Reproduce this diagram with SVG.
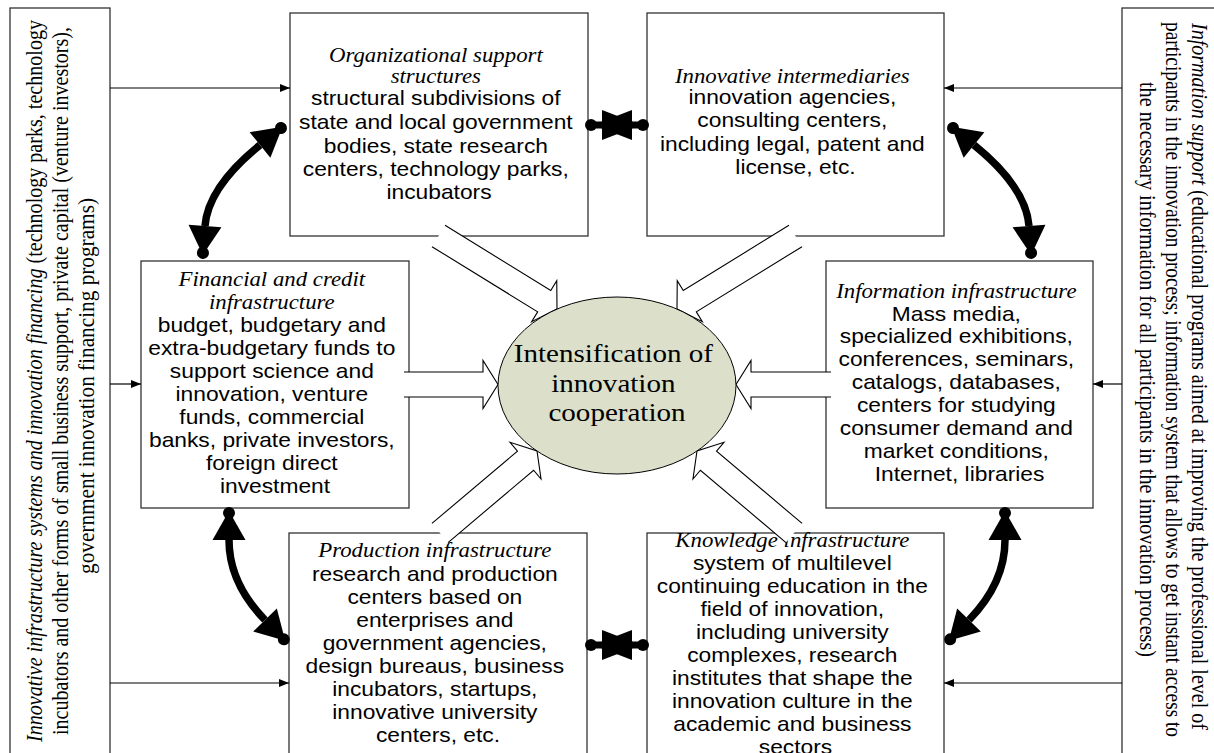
<svg xmlns="http://www.w3.org/2000/svg" width="1214" height="753" viewBox="0 0 1214 753">
<style>
.box{fill:#fff;stroke:#333;stroke-width:1.3}
.t{font-family:"Liberation Sans",Arial,sans-serif;font-size:20px;fill:#000;text-anchor:middle}
.h{font-family:"Liberation Serif","Times New Roman",serif;font-style:italic}
.side{font-family:"Liberation Serif","Times New Roman",serif;font-size:20px;fill:#000}
.it{font-style:italic}
.thin{stroke:#000;stroke-width:1.2;fill:none;marker-end:url(#ta)}
.thick{fill:none;stroke:#000;stroke-width:7.5;marker-start:url(#dh);marker-end:url(#dh)}
.hf{fill:#fff;stroke:none}
.hl{fill:none;stroke:#000;stroke-width:1.1}
.ell{fill:#dcdfca;stroke:#000;stroke-width:1}
.et{font-family:"Liberation Serif","Times New Roman",serif;font-size:25.5px;fill:#000;text-anchor:middle}
</style>
<defs>
<marker id="ta" markerUnits="userSpaceOnUse" markerWidth="12" markerHeight="10" refX="10" refY="4" orient="auto" overflow="visible"><path d="M0,0 L10,4 L0,8 Z" fill="#000"/></marker>
<marker id="dh" markerUnits="userSpaceOnUse" markerWidth="40" markerHeight="40" refX="0" refY="0" orient="auto-start-reverse" overflow="visible"><path d="M0,-16.5 L29,0 L0,16.5 Z" fill="#000"/><circle cx="27" cy="0" r="6" fill="#000"/></marker>
</defs>
<rect width="1214" height="753" fill="#fff"/>

<g id="node-left-support">
<rect class="box" x="10" y="8" width="100" height="770"/>
<text class="side" transform="translate(42,381) scale(1.14,1) rotate(-90)" x="-361" y="0" textLength="722" lengthAdjust="spacingAndGlyphs"><tspan class="it">Innovative infrastructure systems and innovation financing</tspan> (technology parks, technology</text>
<text class="side" transform="translate(68,381) scale(1.14,1) rotate(-90)" x="-354" y="0" textLength="708" lengthAdjust="spacingAndGlyphs">incubators and other forms of small business support, private capital (venture investors),</text>
<text class="side" transform="translate(94,386) scale(1.14,1) rotate(-90)" x="-188" y="0" textLength="376" lengthAdjust="spacingAndGlyphs">government innovation financing programs)</text>
</g>

<g id="node-right-support">
<rect class="box" x="1122" y="8" width="120" height="770"/>
<text class="side" transform="translate(1192,379) scale(1.14,1) rotate(90)" x="-356" y="0" textLength="707" lengthAdjust="spacingAndGlyphs"><tspan class="it">Information support</tspan> (educational programs aimed at improving the professional level of</text>
<text class="side" transform="translate(1166,379) scale(1.14,1) rotate(90)" x="-357" y="0" textLength="715" lengthAdjust="spacingAndGlyphs">participants in the innovation process; information system that allows to get instant access to</text>
<text class="side" transform="translate(1140,379) scale(1.14,1) rotate(90)" x="-297" y="0" textLength="575" lengthAdjust="spacingAndGlyphs">the necessary information for all participants in the innovation process)</text>
</g>

<g id="node-organizational">
<rect class="box" x="290" y="13" width="298" height="223"/>
<text class="t" transform="matrix(1.14 0 0 1 439 0)">
<tspan class="h" x="0" y="62">Organizational support</tspan>
<tspan class="h" x="0" y="83">structures</tspan>
<tspan x="0" y="105.5">structural subdivisions of</tspan>
<tspan x="0" y="129.5">state and local government</tspan>
<tspan x="0" y="153">bodies, state research</tspan>
<tspan x="0" y="176.5">centers, technology parks,</tspan>
<tspan x="0" y="199.5">incubators</tspan>
</text>
</g>

<g id="node-intermediaries">
<rect class="box" x="647" y="13" width="297" height="223"/>
<text class="t" transform="matrix(1.14 0 0 1 795.5 0)">
<tspan class="h" x="0" y="83">Innovative intermediaries</tspan>
<tspan x="0" y="104">innovation agencies,</tspan>
<tspan x="0" y="127">consulting centers,</tspan>
<tspan x="0" y="151">including legal, patent and</tspan>
<tspan x="0" y="174">license, etc.</tspan>
</text>
</g>

<g id="node-financial">
<rect class="box" x="141" y="261" width="268" height="247"/>
<text class="t" transform="matrix(1.14 0 0 1 275 0)">
<tspan class="h" x="0" y="286">Financial and credit</tspan>
<tspan class="h" x="0" y="309">infrastructure</tspan>
<tspan x="0" y="332">budget, budgetary and</tspan>
<tspan x="0" y="355">extra-budgetary funds to</tspan>
<tspan x="0" y="378">support science and</tspan>
<tspan x="0" y="401.5">innovation, venture</tspan>
<tspan x="0" y="424">funds, commercial</tspan>
<tspan x="0" y="447">banks, private investors,</tspan>
<tspan x="0" y="470">foreign direct</tspan>
<tspan x="0" y="493">investment</tspan>
</text>
</g>

<g id="node-information">
<rect class="box" x="826" y="261" width="267" height="247"/>
<text class="t" transform="matrix(1.14 0 0 1 959.5 0)">
<tspan class="h" x="0" y="298">Information infrastructure</tspan>
<tspan x="0" y="321">Mass media,</tspan>
<tspan x="0" y="343.5">specialized exhibitions,</tspan>
<tspan x="0" y="366.5">conferences, seminars,</tspan>
<tspan x="0" y="389.5">catalogs, databases,</tspan>
<tspan x="0" y="412.5">centers for studying</tspan>
<tspan x="0" y="435.5">consumer demand and</tspan>
<tspan x="0" y="458.5">market conditions,</tspan>
<tspan x="0" y="481.5">Internet, libraries</tspan>
</text>
</g>

<g id="node-production">
<rect class="box" x="289" y="533" width="298" height="240"/>
<text class="t" transform="matrix(1.14 0 0 1 438 0)">
<tspan class="h" x="0" y="557">Production infrastructure</tspan>
<tspan x="0" y="581">research and production</tspan>
<tspan x="0" y="604">centers based on</tspan>
<tspan x="0" y="627">enterprises and</tspan>
<tspan x="0" y="650">government agencies,</tspan>
<tspan x="0" y="673">design bureaus, business</tspan>
<tspan x="0" y="696">incubators, startups,</tspan>
<tspan x="0" y="719">innovative university</tspan>
<tspan x="0" y="742">centers, etc.</tspan>
</text>
</g>

<g id="node-knowledge">
<rect class="box" x="647" y="533" width="297" height="240"/>
<text class="t" transform="matrix(1.14 0 0 1 795.5 0)">
<tspan class="h" x="0" y="547">Knowledge infrastructure</tspan>
<tspan x="0" y="570">system of multilevel</tspan>
<tspan x="0" y="593">continuing education in the</tspan>
<tspan x="0" y="616">field of innovation,</tspan>
<tspan x="0" y="639">including university</tspan>
<tspan x="0" y="662">complexes, research</tspan>
<tspan x="0" y="685">institutes that shape the</tspan>
<tspan x="0" y="708">innovation culture in the</tspan>
<tspan x="0" y="731">academic and business</tspan>
<tspan x="0" y="754">sectors</tspan>
</text>
</g>

<g id="connectors">
<line class="thin" x1="110" y1="88" x2="290" y2="88"/>
<line class="thin" x1="110" y1="384" x2="141" y2="384"/>
<line class="thin" x1="110" y1="683" x2="289" y2="683"/>
<line class="thin" x1="1122" y1="88" x2="944" y2="88"/>
<line class="thin" x1="1122" y1="384" x2="1093" y2="384"/>
<line class="thin" x1="1122" y1="683" x2="944" y2="683"/>

<path class="thick" d="M260,145 Q208,187 205,226"/>
<path class="thick" d="M229,540 Q229,583 265,620"/>
<path class="thick" d="M974,145 Q1026,187 1029,226"/>
<path class="thick" d="M1005,540 Q1005,583 969,620"/>

<g id="bowtie-top">
<line x1="592" y1="125" x2="643" y2="125" stroke="#000" stroke-width="7"/>
<polygon points="602,110 602,140 641,125"/>
<polygon points="632,110 632,140 593,125"/>
<circle cx="591" cy="125" r="6"/>
<circle cx="643" cy="125" r="6"/>
</g>
<g id="bowtie-bottom">
<line x1="592" y1="645" x2="643" y2="645" stroke="#000" stroke-width="7"/>
<polygon points="602,630 602,660 641,645"/>
<polygon points="632,630 632,660 593,645"/>
<circle cx="591" cy="645" r="6"/>
<circle cx="643" cy="645" r="6"/>
</g>

<polygon class="hf" points="404,372 483,372 483,360.5 498,384.5 483,408.5 483,397 404,397"/>
<polyline class="hl" points="404,372 483,372 483,360.5 498,384.5 483,408.5 483,397 404,397"/>
<polygon class="hf" points="831,372 751,372 751,360.5 736,384.5 751,408.5 751,397 831,397"/>
<polyline class="hl" points="831,372 751,372 751,360.5 736,384.5 751,408.5 751,397 831,397"/>

<polygon class="hf" points="445.04,225.34 550.75,290.5 556.76,280.7 557,309 531.66,321.62 537.67,311.82 431.96,246.66"/>
<polyline class="hl" points="445.04,225.34 550.75,290.5 556.76,280.7 557,309 531.66,321.62 537.67,311.82 431.96,246.66"/>
<polygon class="hf" points="788.96,225.34 683.25,290.5 677.24,280.7 677,309 702.34,321.62 696.33,311.82 802.04,246.66"/>
<polyline class="hl" points="788.96,225.34 683.25,290.5 677.24,280.7 677,309 702.34,321.62 696.33,311.82 802.04,246.66"/>

<polygon class="hf" points="431.93,523.45 517.47,451.13 510.05,442.35 537,451 541.03,479.01 533.61,470.23 448.07,542.55"/>
<polyline class="hl" points="431.93,523.45 517.47,451.13 510.05,442.35 537,451 541.03,479.01 533.61,470.23 448.07,542.55"/>
<polygon class="hf" points="802.07,523.45 716.53,451.13 723.95,442.35 697,451 692.97,479.01 700.39,470.23 785.93,542.55"/>
<polyline class="hl" points="802.07,523.45 716.53,451.13 723.95,442.35 697,451 692.97,479.01 700.39,470.23 785.93,542.55"/>
</g>

<g id="node-center">
<ellipse class="ell" cx="617" cy="385.5" rx="119" ry="88.5"/>
<text class="et" transform="matrix(1.14 0 0 1 617 0)">
<tspan x="0" y="362">Intensification of</tspan>
<tspan x="0" y="392">innovation</tspan>
<tspan x="0" y="421">cooperation</tspan>
</text>
</g>
</svg>
